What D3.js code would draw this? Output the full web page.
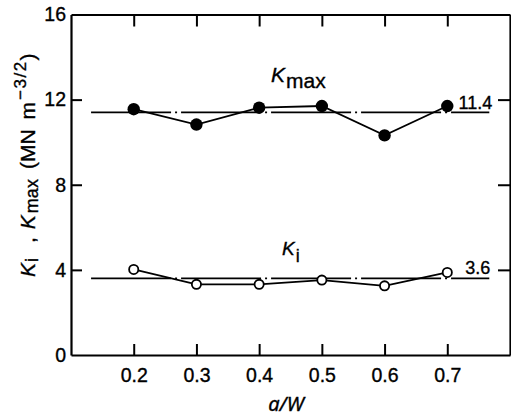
<!DOCTYPE html>
<html>
<head>
<meta charset="utf-8">
<script src="https://cdn.jsdelivr.net/npm/d3@7"></script>
<style>
  html, body { margin: 0; padding: 0; background: #fff; }
  svg { display: block; }
  text { font-family: "Liberation Sans", Arial, sans-serif; fill: #000; stroke: #000; stroke-width: 0.35px; }
</style>
</head>
<body>
<svg id="chart" width="511" height="416"></svg>
<script>
// Crack length ratio a/W and measured stress intensity factors
const aW = [0.2, 0.3, 0.4, 0.5, 0.6, 0.7];
const kMax = [11.55, 10.83, 11.62, 11.7, 10.32, 11.7];
const kI = [4.02, 3.32, 3.32, 3.52, 3.25, 3.88];

// Mean values drawn as chain lines, and the a/W span they cover
const kMaxMean = 11.4;
const kIMean = 3.6;
const meanSpan = [0.132, 0.767];

// Axis ticks
const xTicks = [0.2, 0.3, 0.4, 0.5, 0.6, 0.7];
const yTicks = [0, 4, 8, 12, 16];
const yInnerTicks = [4, 8, 12];

const svg = d3.select("#chart");
const plotLeft = 71, plotRight = 510, plotTop = 14.5, plotBottom = 355;

const x = d3.scaleLinear().domain([0.1, 0.8]).range([plotLeft, plotRight]);
const y = d3.scaleLinear().domain([0, 16]).range([plotBottom, plotTop]);

function styleAxis(g) {
  g.selectAll("path.domain").attr("stroke", "#000").attr("stroke-width", 2.2);
  g.selectAll(".tick line").attr("stroke", "#000").attr("stroke-width", 2);
  g.selectAll(".tick text").style("font-size", "19.5px").attr("fill", "#000")
    .style("font-family", "'Liberation Sans', Arial, sans-serif");
}

// Bottom axis with inward ticks and labels
svg.append("g")
  .attr("transform", `translate(0,${plotBottom})`)
  .call(d3.axisBottom(x).tickValues(xTicks).tickSizeInner(-11).tickSizeOuter(0)
    .tickPadding(13).tickFormat(d3.format(".1f")))
  .call(styleAxis);

// Top axis: ticks only
svg.append("g")
  .attr("transform", `translate(0,${plotTop})`)
  .call(d3.axisTop(x).tickValues(xTicks).tickSizeInner(-12).tickSizeOuter(0).tickFormat(""))
  .call(styleAxis);

// Left axis with labels
svg.append("g")
  .attr("transform", `translate(${plotLeft},0)`)
  .call(d3.axisLeft(y).tickValues(yTicks).tickSizeInner(-11).tickSizeOuter(0).tickPadding(5))
  .call(styleAxis)
  .call(g => g.selectAll(".tick").filter(d => d === 0 || d === 16).select("line").remove());

// Right axis: ticks only
svg.append("g")
  .attr("transform", `translate(${plotRight},0)`)
  .call(d3.axisRight(y).tickValues(yInnerTicks).tickSizeInner(-12).tickSizeOuter(0).tickFormat(""))
  .call(styleAxis);

// Chain lines at the mean values: long dashes broken by a dot
const chain = "80,4,2,4";
[kMaxMean, kIMean].forEach(v => {
  svg.append("line")
    .attr("x1", x(meanSpan[0])).attr("x2", x(meanSpan[1]))
    .attr("y1", y(v)).attr("y2", y(v))
    .attr("stroke", "#000").attr("stroke-width", 1.8)
    .attr("stroke-dasharray", chain);
});

// Mean value labels
svg.append("text").attr("x", x(meanSpan[1]) + 3).attr("y", y(kMaxMean) - 3)
  .attr("text-anchor", "end").style("font-size", "18px").text(kMaxMean.toFixed(1));
svg.append("text").attr("x", x(meanSpan[1]) + 1).attr("y", y(kIMean) - 4)
  .attr("text-anchor", "end").style("font-size", "18px").text(kIMean.toFixed(1));

const line = d3.line().x(d => x(d[0])).y(d => y(d[1]));

// K_max series: filled circles
const maxPts = aW.map((a, i) => [a, kMax[i]]);
svg.append("path").attr("d", line(maxPts))
  .attr("fill", "none").attr("stroke", "#000").attr("stroke-width", 1.8);
svg.selectAll("circle.kmax").data(maxPts).enter().append("circle")
  .attr("class", "kmax")
  .attr("cx", d => x(d[0])).attr("cy", d => y(d[1])).attr("r", 6.2)
  .attr("fill", "#000");

// K_i series: open circles
const iPts = aW.map((a, i) => [a, kI[i]]);
svg.append("path").attr("d", line(iPts))
  .attr("fill", "none").attr("stroke", "#000").attr("stroke-width", 1.8);
svg.selectAll("circle.ki").data(iPts).enter().append("circle")
  .attr("class", "ki")
  .attr("cx", d => x(d[0])).attr("cy", d => y(d[1])).attr("r", 4.6)
  .attr("fill", "#fff").attr("stroke", "#000").attr("stroke-width", 1.8);

// Series labels
const lblMax = svg.append("text").attr("x", 271).attr("y", 82);
lblMax.append("tspan").style("font-style", "italic").style("font-size", "21px").text("K");
lblMax.append("tspan").attr("dy", 6).attr("dx", 1).style("font-size", "21px").text("max");

const lblI = svg.append("text").attr("x", 282).attr("y", 255);
lblI.append("tspan").style("font-style", "italic").style("font-size", "19px").text("K");
lblI.append("tspan").attr("dy", 7).attr("dx", 1).style("font-size", "18px").text("i");

// Y axis title: K_i , K_max (MN m^-3/2)
const yt = svg.append("text")
  .attr("transform", "translate(35,277) rotate(-90)")
  .style("font-size", "21px");
yt.append("tspan").style("font-style", "italic").text("K");
yt.append("tspan").attr("dx", 1).attr("dy", 3).style("font-size", "18px").text("i");
yt.append("tspan").attr("dx", 15).attr("dy", -3).text(",");
yt.append("tspan").attr("dx", 8).style("font-style", "italic").text("K");
yt.append("tspan").attr("dx", 2).attr("dy", 3).style("font-size", "18px").text("max");
yt.append("tspan").attr("dx", 10).attr("dy", -3).text("(MN");
yt.append("tspan").attr("dx", 10).text("m");
yt.append("tspan").attr("dx", 2).attr("dy", -9).style("font-size", "17px")
  .style("letter-spacing", "1.5px").text("\u22123/2");
yt.append("tspan").attr("dy", 9).text(")");

// X axis title
const xt = svg.append("text").attr("x", 286).attr("y", 411)
  .attr("text-anchor", "middle")
  .style("font-size", "20px").style("font-style", "italic")
  .style("font-family", "'Noto Sans', sans-serif");
xt.text("a/W");
</script>
</body>
</html>
